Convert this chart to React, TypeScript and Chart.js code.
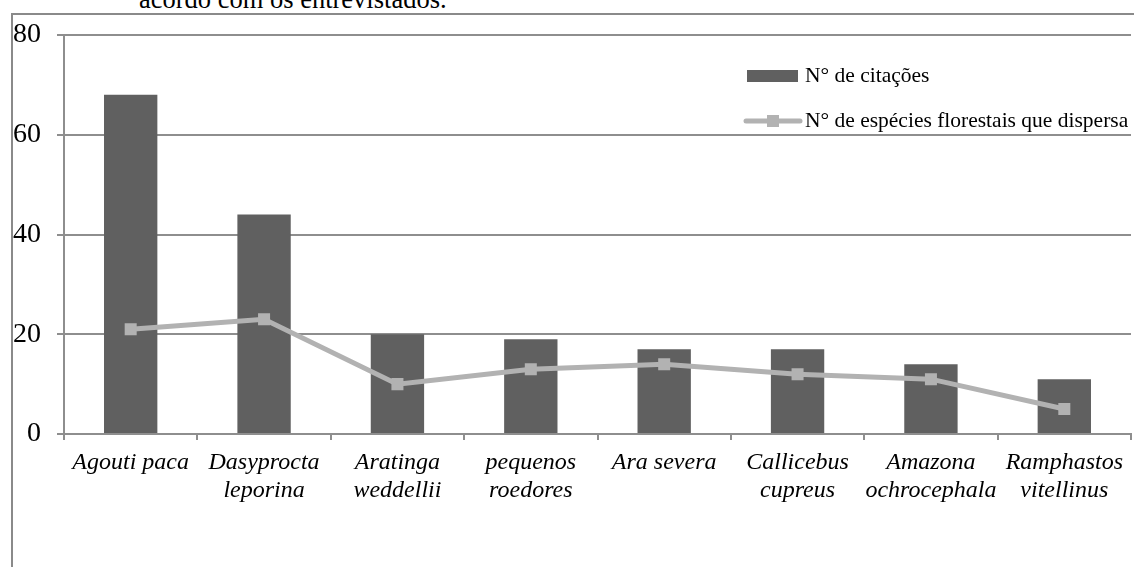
import React, { useEffect, useRef } from "react";
import { Chart, registerables } from "chart.js";

Chart.register(...registerables);

const categories: string[][] = [
  ["Agouti paca"],
  ["Dasyprocta", "leporina"],
  ["Aratinga", "weddellii"],
  ["pequenos", "roedores"],
  ["Ara severa"],
  ["Callicebus", "cupreus"],
  ["Amazona", "ochrocephala"],
  ["Ramphastos", "vitellinus"],
];
const citacoes = [68, 44, 20, 19, 17, 17, 14, 11];
const especies = [21, 23, 10, 13, 14, 12, 11, 5];
const seriesNames = ["N° de citações", "N° de espécies florestais que dispersa"];
const yMin = 0;
const yMax = 80;
const yStep = 20;

const SERIF = "'Liberation Serif', 'Times New Roman', serif";
const BAR_COLOR = "#606060";
const LINE_COLOR = "#b2b2b2";
const GRID_COLOR = "#8e8e8e";

const legendPlugin = {
  id: "customLegend",
  afterDraw(chart: any) {
    const { ctx, chartArea } = chart;
    const x0 = chartArea.right - 384;
    const barDs = chart.data.datasets[1];
    const lineDs = chart.data.datasets[0];
    ctx.save();
    ctx.font = `21.5px ${SERIF}`;
    ctx.textBaseline = "middle";
    ctx.fillStyle = "#000";
    const y1 = chartArea.top + 41;
    ctx.fillStyle = barDs.backgroundColor;
    ctx.fillRect(x0, y1 - 6, 51, 12);
    ctx.fillStyle = "#000";
    ctx.fillText(barDs.label, x0 + 58, y1);
    const y2 = chartArea.top + 86;
    ctx.strokeStyle = lineDs.borderColor;
    ctx.lineWidth = 5;
    ctx.lineCap = "round";
    ctx.beginPath();
    ctx.moveTo(x0 - 1, y2);
    ctx.lineTo(x0 + 53, y2);
    ctx.stroke();
    ctx.fillStyle = lineDs.pointBackgroundColor;
    ctx.fillRect(x0 + 20, y2 - 6, 12, 12);
    ctx.fillStyle = "#000";
    ctx.fillText(lineDs.label, x0 + 58, y2);
    ctx.restore();
  },
};

export default function App() {
  const ref = useRef<HTMLCanvasElement>(null);
  useEffect(() => {
    document.body.style.margin = "0";
    const chart = new Chart(ref.current!, {
      type: "bar",
      data: {
        labels: categories,
        datasets: [
          {
            type: "line",
            label: seriesNames[1],
            data: especies,
            borderColor: LINE_COLOR,
            backgroundColor: LINE_COLOR,
            pointBackgroundColor: LINE_COLOR,
            pointBorderColor: LINE_COLOR,
            borderWidth: 5,
            pointStyle: "rect",
            pointRadius: 8.5,
            pointBorderWidth: 0,
            tension: 0,
            order: 0,
          } as any,
          {
            type: "bar",
            label: seriesNames[0],
            data: citacoes,
            backgroundColor: BAR_COLOR,
            categoryPercentage: 1,
            barPercentage: 0.4,
            order: 1,
          },
        ],
      },
      options: {
        animation: false,
        responsive: false,
        layout: { autoPadding: false, padding: { top: 35, right: 3, left: 0, bottom: 0 } },
        plugins: {
          legend: { display: false },
          tooltip: { enabled: false },
        },
        scales: {
          x: {
            offset: true,
            grid: {
              display: true,
              drawOnChartArea: false,
              drawTicks: true,
              tickLength: 6,
              color: GRID_COLOR,
              lineWidth: 2,
              offset: true,
            },
            border: { display: true, color: GRID_COLOR, width: 2 },
            ticks: {
              color: "#000",
              padding: 9,
              maxRotation: 0,
              autoSkip: false,
              font: { family: SERIF, size: 24, style: "italic", lineHeight: 1.15 },
            },
            afterFit: (s: any) => {
              s.height = 133;
              s.paddingLeft = 0;
              s.paddingRight = 0;
            },
          },
          y: {
            min: yMin,
            max: yMax,
            ticks: {
              stepSize: yStep,
              color: "#000",
              padding: 16,
              font: { family: SERIF, size: 28 },
            },
            grid: {
              color: GRID_COLOR,
              lineWidth: 2,
              tickLength: 7,
              drawTicks: true,
            },
            border: { display: true, color: GRID_COLOR, width: 2 },
            afterFit: (s: any) => {
              s.width = 64;
            },
          },
        },
      },
      plugins: [legendPlugin],
    });
    return () => chart.destroy();
  }, []);

  return (
    <div style={{ position: "absolute", left: 0, top: 0, width: 1134, height: 567, overflow: "hidden", background: "#fff" }}>
      <div
        style={{
          position: "absolute",
          left: 139,
          top: -16,
          fontFamily: SERIF,
          fontSize: 26.5,
          lineHeight: "30px",
          whiteSpace: "nowrap",
          color: "#000",
        }}
      >
        acordo com os entrevistados.
      </div>
      <div
        style={{
          position: "absolute",
          left: 11,
          top: 13,
          width: 1140,
          height: 600,
          borderLeft: "2px solid #8a8a8a",
          borderTop: "2px solid #8a8a8a",
        }}
      />
      <canvas ref={ref} width={1134} height={567} style={{ position: "absolute", left: 0, top: 0 }} />
    </div>
  );
}
